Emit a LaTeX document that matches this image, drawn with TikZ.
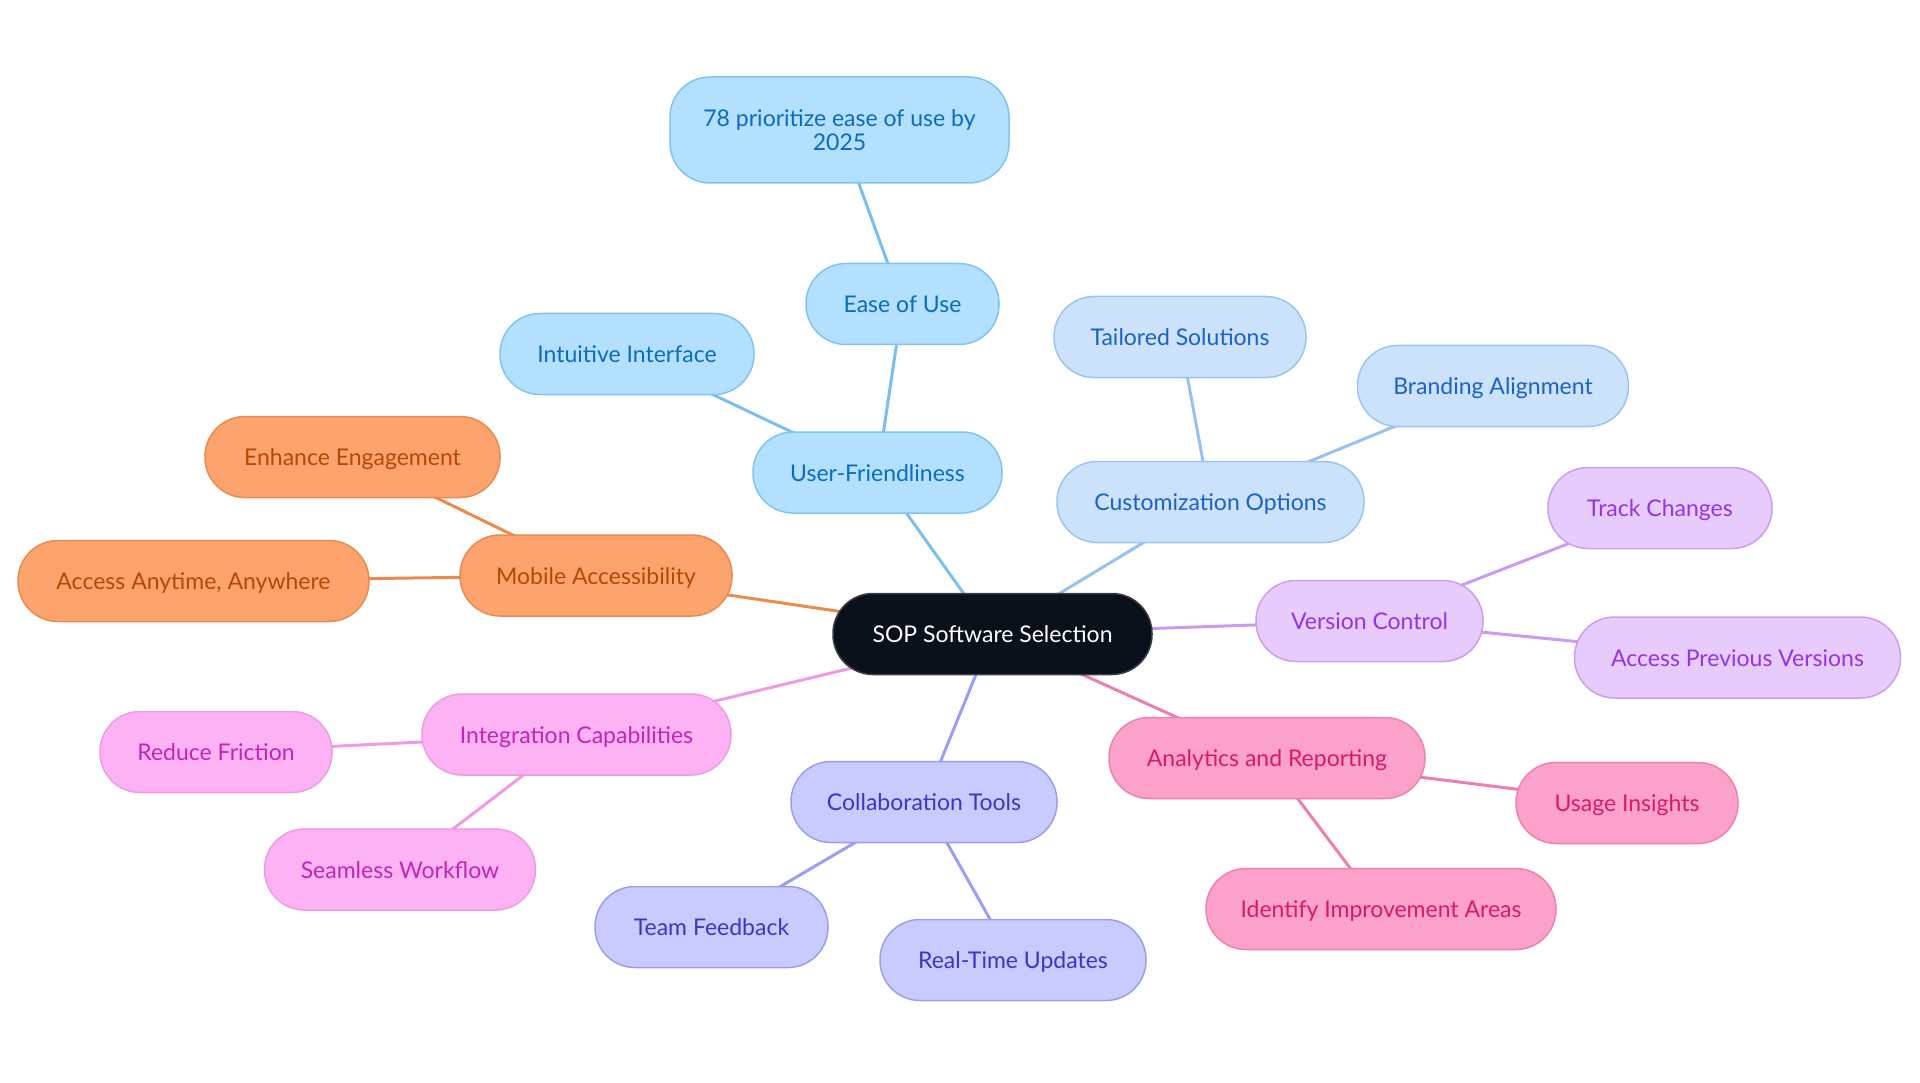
\documentclass[tikz,border=0pt]{standalone}
\usepackage{fontspec}
\setmainfont{Lato}
\usetikzlibrary{backgrounds}
\definecolor{bluefill}{HTML}{B3E0FF}\definecolor{bluedraw}{HTML}{80C4F2}\definecolor{bluetext}{HTML}{0B6BC2}\definecolor{blueline}{HTML}{7ABFF0}
\definecolor{custfill}{HTML}{CCE2FA}\definecolor{custdraw}{HTML}{9AC5F2}\definecolor{custtext}{HTML}{1A62C9}\definecolor{custline}{HTML}{96C1F0}
\definecolor{purfill}{HTML}{E7CBFC}\definecolor{purdraw}{HTML}{CC9EF0}\definecolor{purtext}{HTML}{9333EA}\definecolor{purline}{HTML}{C99CF2}
\definecolor{orfill}{HTML}{FDA46E}\definecolor{ordraw}{HTML}{EA8A50}\definecolor{ortext}{HTML}{B54708}\definecolor{orline}{HTML}{EC8A4E}
\definecolor{pkfill}{HTML}{FCB2F3}\definecolor{pkdraw}{HTML}{F09AE6}\definecolor{pktext}{HTML}{C424B8}\definecolor{pkline}{HTML}{F099E6}
\definecolor{indfill}{HTML}{C9CAFD}\definecolor{inddraw}{HTML}{9A9EF2}\definecolor{indtext}{HTML}{3B36C8}\definecolor{indline}{HTML}{9A9EF4}
\definecolor{magfill}{HTML}{FCA1C9}\definecolor{magdraw}{HTML}{EE82B3}\definecolor{magtext}{HTML}{D91A6C}\definecolor{magline}{HTML}{EE7DB0}
\definecolor{rootfill}{HTML}{0B111B}\definecolor{rootdraw}{HTML}{3A3E45}
\tikzset{
  box/.style={rounded corners=40pt, minimum height=81pt, inner xsep=0pt, inner ysep=0pt, line width=1.5pt,
    font=\fontsize{23}{24}\selectfont, align=center, text height=18.5pt, text depth=1.5pt},
  bluebox/.style={box, fill=bluefill, draw=bluedraw, text=bluetext},
  custbox/.style={box, fill=custfill, draw=custdraw, text=custtext},
  purbox/.style={box, fill=purfill, draw=purdraw, text=purtext},
  orbox/.style={box, fill=orfill, draw=ordraw, text=ortext},
  pkbox/.style={box, fill=pkfill, draw=pkdraw, text=pktext},
  indbox/.style={box, fill=indfill, draw=inddraw, text=indtext},
  magbox/.style={box, fill=magfill, draw=magdraw, text=magtext},
  rootbox/.style={box, fill=rootfill, draw=rootdraw, text=white},
  link/.style={line width=3pt}
}
\begin{document}
\begin{tikzpicture}[x=1pt,y=-1pt]
\useasboundingbox (0,0) rectangle (1920,1083);
\node[rootbox, minimum width=319pt] (root) at (992.5,634) {SOP Software Selection};
% blue branch
\node[bluebox, minimum width=249pt] (uf) at (877.5,472.5) {User-Friendliness};
\node[bluebox, minimum width=254pt] (ii) at (627,354) {Intuitive Interface};
\node[bluebox, minimum width=193pt] (eu) at (902.5,304) {Ease of Use};
\node[bluebox, minimum width=339pt, minimum height=106pt, text height=, text depth=] (p78) at (839.5,130) {78 prioritize ease of use by\\2025};
% customization
\node[custbox, minimum width=307pt] (co) at (1210.5,502) {Customization Options};
\node[custbox, minimum width=252pt] (ts) at (1180,337) {Tailored Solutions};
\node[custbox, minimum width=271pt] (ba) at (1493,386) {Branding Alignment};
% purple
\node[purbox, minimum width=227pt] (vc) at (1369.5,621) {Version Control};
\node[purbox, minimum width=224pt] (tc) at (1660,508) {Track Changes};
\node[purbox, minimum width=326pt] (apv) at (1737.5,657.5) {Access Previous Versions};
% orange
\node[orbox, minimum width=272pt] (ma) at (596,575.5) {Mobile Accessibility};
\node[orbox, minimum width=295pt] (ee) at (352.5,457) {Enhance Engagement};
\node[orbox, minimum width=351pt] (aa) at (193.5,581) {Access Anytime, Anywhere};
% pink
\node[pkbox, minimum width=309pt] (ic) at (576.5,734.5) {Integration Capabilities};
\node[pkbox, minimum width=232pt] (rf) at (216,752) {Reduce Friction};
\node[pkbox, minimum width=271pt] (sw) at (400,869.5) {Seamless Workflow};
% indigo
\node[indbox, minimum width=266pt] (ct) at (924,802) {Collaboration Tools};
\node[indbox, minimum width=233pt] (tf) at (711.5,927) {Team Feedback};
\node[indbox, minimum width=266pt] (rt) at (1013,960) {Real-Time Updates};
% magenta
\node[magbox, minimum width=316pt] (ar) at (1267,758) {Analytics and Reporting};
\node[magbox, minimum width=222pt] (ui) at (1627,803) {Usage Insights};
\node[magbox, minimum width=350pt] (ia) at (1381,909) {Identify Improvement Areas};
\begin{scope}[on background layer]
\draw[link, blueline] (root.center) -- (uf.center);
\draw[link, blueline] (uf.center) -- (ii.center);
\draw[link, blueline] (uf.center) -- (eu.center);
\draw[link, blueline] (eu.center) -- (p78.center);
\draw[link, custline] (root.center) -- (co.center);
\draw[link, custline] (co.center) -- (ts.center);
\draw[link, custline] (co.center) -- (ba.center);
\draw[link, purline] (root.center) -- (vc.center);
\draw[link, purline] (vc.center) -- (tc.center);
\draw[link, purline] (vc.center) -- (apv.center);
\draw[link, orline] (root.center) -- (ma.center);
\draw[link, orline] (ma.center) -- (ee.center);
\draw[link, orline] (ma.center) -- (aa.center);
\draw[link, pkline] (root.center) -- (ic.center);
\draw[link, pkline] (ic.center) -- (rf.center);
\draw[link, pkline] (ic.center) -- (sw.center);
\draw[link, indline] (root.center) -- (ct.center);
\draw[link, indline] (ct.center) -- (tf.center);
\draw[link, indline] (ct.center) -- (rt.center);
\draw[link, magline] (root.center) -- (ar.center);
\draw[link, magline] (ar.center) -- (ui.center);
\draw[link, magline] (ar.center) -- (ia.center);
\end{scope}
\end{tikzpicture}
\end{document}
